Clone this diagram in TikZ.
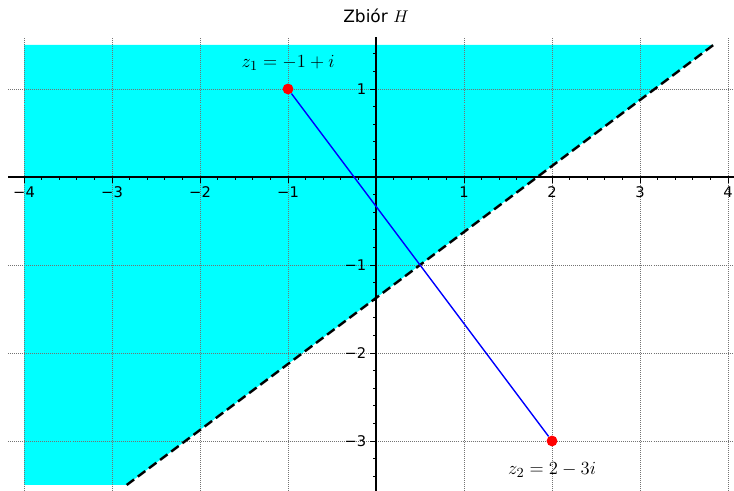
\documentclass[tikz,border=0pt]{standalone}
\usepackage{fontspec}
\newfontfamily\plotfont{DejaVu Sans}
\definecolor{regioncyan}{RGB}{0,255,255}
\begin{document}
\begin{tikzpicture}[x=2cm, y=2cm,
    ticklabel/.style={font=\plotfont\fontsize{9.5}{10}\selectfont, inner sep=1pt},
    gridline/.style={black!55, densely dotted, line width=0.3pt},
    axisline/.style={black, line width=0.9pt},
    pointdot/.style={circle, fill=red, inner sep=0pt, minimum size=7pt},
    pointlabel/.style={font=\fontsize{13}{15}\selectfont, inner sep=1pt}]
    \useasboundingbox (-4.273,-3.568) rectangle (4.068,2.011);

    % Region H
    \coordinate (B1) at (-2.8333,-3.5);
    \coordinate (B2) at (3.8333,1.5);
    \fill[regioncyan] (-4,1.5) -- (B2) -- (B1) -- (-4,-3.5) -- cycle;

    % Grid
    \foreach \x in {-4,...,4} \draw[gridline] (\x,-3.568) -- (\x,1.59);
    \foreach \y in {-3,...,1} \draw[gridline] (-4.18,\y) -- (4.068,\y);

    % Axes and ticks
    \draw[axisline] (-4.18,0) -- (4.068,0);
    \draw[axisline] (0,-3.568) -- (0,1.59);
    \foreach \i in {-20,...,20} \draw[line width=0.5pt] (\i/5,0) -- ++(0,-0.04);
    \foreach \i in {-17,...,7} \draw[line width=0.5pt] (0,\i/5) -- ++(-0.04,0);
    \foreach \x in {-4,...,4} \draw[line width=0.6pt] (\x,0) -- ++(0,-0.07);
    \foreach \y in {-3,...,1} \draw[line width=0.6pt] (0,\y) -- ++(-0.07,0);
    \foreach \x/\t in {-4/−4, -3/−3, -2/−2, -1/−1, 1/1, 2/2, 3/3, 4/4}
        \node[ticklabel, anchor=north] (xl\x) at (\x,-0.09) {\t};
    \foreach \y/\t in {1/1, -1/−1, -2/−2, -3/−3}
        \node[ticklabel, anchor=east] (yl\y) at (-0.09,\y) {\t};

    % Boundary of H
    \draw[black, line width=1.6pt, dash pattern=on 6pt off 3pt] (B1) -- (B2);

    % Points and segment
    \node[pointdot] (z1) at (-1,1) {};
    \node[pointdot] (z2) at (2,-3) {};
    \draw[blue, line width=0.9pt] (z1) -- (z2);
    \node[pointlabel] (z1label) at (-1,1.3) {$z_1 = -1+i$};
    \node[pointlabel] (z2label) at (2,-3.33) {$z_2 = 2-3i$};

    % Title
    \node[font=\plotfont\fontsize{11}{12}\selectfont] (title) at (0,1.83) {Zbiór $H$};
\end{tikzpicture}
\end{document}
